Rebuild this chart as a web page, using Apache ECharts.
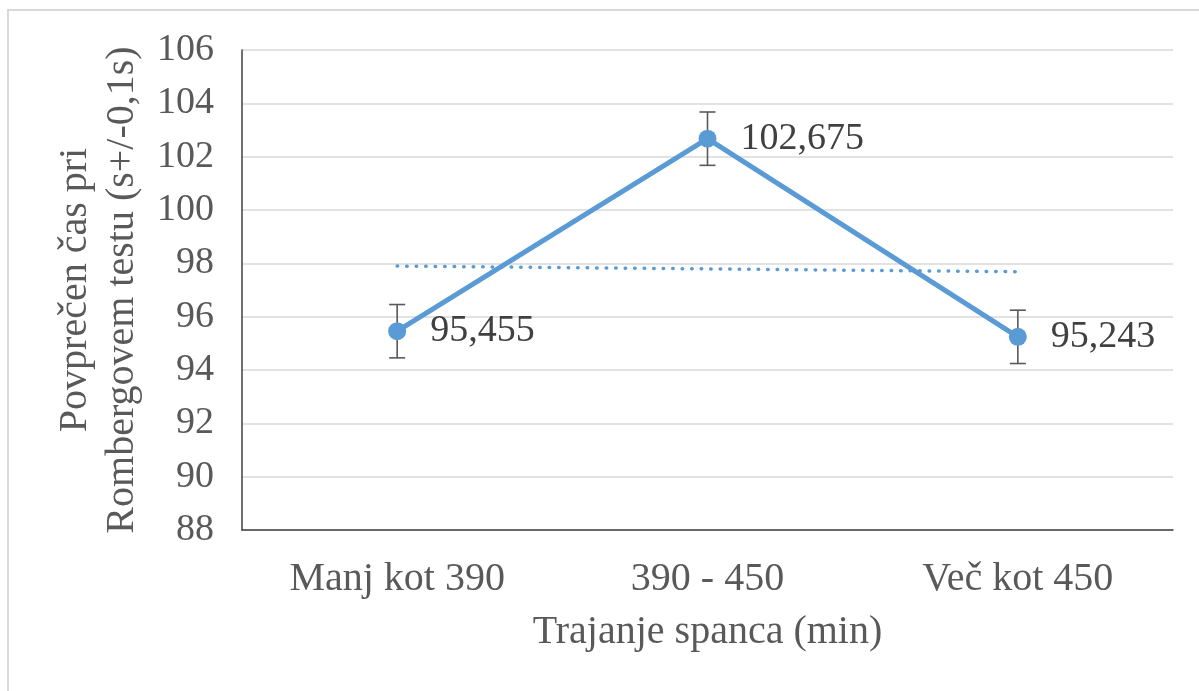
<!DOCTYPE html>
<html>
<head>
<meta charset="utf-8">
<script src="https://cdn.jsdelivr.net/npm/echarts@6/dist/echarts.min.js"></script>
<style>
  html, body { margin: 0; padding: 0; background: #fff; }
  #chart { width: 1199px; height: 691px; }
</style>
</head>
<body>
<div id="chart"></div>
<script>
// Sleep-duration groups and mean Romberg test times
const categories = ['Manj kot 390', '390 - 450', 'Več kot 450'];
const meanTimes = [95.455, 102.675, 95.243];
const errorMargins = [1, 1, 1];
const yTicks = { min: 88, max: 106, interval: 2 };

// Linear trend through the means (least squares over category index)
function linearTrend(values) {
  const n = values.length;
  const xs = values.map((_, i) => i + 1);
  const mx = xs.reduce((a, b) => a + b, 0) / n;
  const my = values.reduce((a, b) => a + b, 0) / n;
  let num = 0, den = 0;
  for (let i = 0; i < n; i++) {
    num += (xs[i] - mx) * (values[i] - my);
    den += (xs[i] - mx) * (xs[i] - mx);
  }
  const slope = num / den;
  return xs.map(x => my + slope * (x - mx));
}
const trend = linearTrend(meanTimes);

const FONT = '"Liberation Serif", "Times New Roman", serif';
const BLUE = '#5B9BD5';

const chart = echarts.init(document.getElementById('chart'), null, { renderer: 'canvas' });

chart.setOption({
  animation: false,
  backgroundColor: '#ffffff',
  graphic: [{
    type: 'rect',
    shape: { x: 8, y: 10, width: 1220, height: 720 },
    style: { fill: 'none', stroke: '#d9d9d9', lineWidth: 2 },
    silent: true
  }],
  grid: { left: 242, top: 50, right: 26, bottom: 161 },
  xAxis: {
    type: 'category',
    data: categories,
    boundaryGap: true,
    axisLine: { lineStyle: { color: '#404040', width: 1.5 } },
    axisTick: { show: false },
    axisLabel: { color: '#595959', fontFamily: FONT, fontSize: 40, margin: 29 },
    name: 'Trajanje spanca (min)',
    nameLocation: 'middle',
    nameGap: 82,
    nameTextStyle: { color: '#595959', fontFamily: FONT, fontSize: 40 }
  },
  yAxis: {
    type: 'value',
    min: yTicks.min,
    max: yTicks.max,
    interval: yTicks.interval,
    axisLine: { show: true, lineStyle: { color: '#404040', width: 1.5 } },
    axisTick: { show: false },
    splitLine: { lineStyle: { color: '#d9d9d9', width: 1.5 } },
    axisLabel: { color: '#595959', fontFamily: FONT, fontSize: 38, margin: 28 },
    name: 'Povprečen čas pri\nRombergovem testu (s+/-0,1s)',
    nameLocation: 'middle',
    nameRotate: 90,
    nameGap: 96,
    nameTextStyle: { color: '#595959', fontFamily: FONT, fontSize: 40, lineHeight: 47 }
  },
  series: [
    {
      name: 'trend',
      type: 'line',
      data: trend,
      symbol: 'none',
      silent: true,
      z: 1,
      lineStyle: { color: BLUE, width: 3.5, type: [0.5, 9], cap: 'round' }
    },
    {
      name: 'mean',
      type: 'line',
      data: meanTimes,
      symbol: 'circle',
      symbolSize: 18,
      z: 3,
      itemStyle: { color: BLUE },
      lineStyle: { color: BLUE, width: 5 },
      label: {
        show: true,
        position: 'right',
        distance: 24,
        color: '#404040',
        fontFamily: FONT,
        fontSize: 38,
        formatter: p => p.value.toFixed(3).replace('.', ',')
      }
    },
    {
      name: 'error',
      type: 'custom',
      z: 2,
      data: meanTimes.map((v, i) => [i, v - errorMargins[i], v + errorMargins[i]]),
      renderItem: function (params, api) {
        const lo = api.coord([api.value(0), api.value(1)]);
        const hi = api.coord([api.value(0), api.value(2)]);
        const half = 8;
        const style = { stroke: '#595959', lineWidth: 1.6 };
        return {
          type: 'group',
          children: [
            { type: 'line', shape: { x1: lo[0], y1: lo[1], x2: hi[0], y2: hi[1] }, style },
            { type: 'line', shape: { x1: lo[0] - half, y1: lo[1], x2: lo[0] + half, y2: lo[1] }, style },
            { type: 'line', shape: { x1: hi[0] - half, y1: hi[1], x2: hi[0] + half, y2: hi[1] }, style }
          ]
        };
      }
    }
  ]
});
</script>
</body>
</html>
